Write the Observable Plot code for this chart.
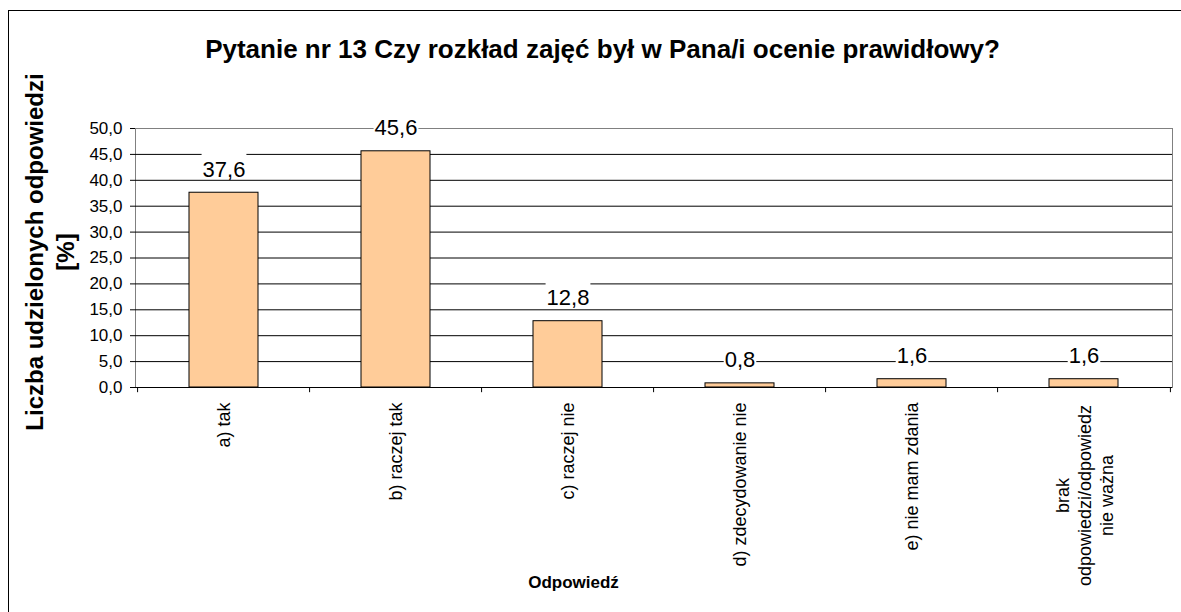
<!DOCTYPE html>
<html><head><meta charset="utf-8">
<script src="https://cdn.jsdelivr.net/npm/d3@7"></script>
<script src="https://cdn.jsdelivr.net/npm/@observablehq/plot@0.6"></script>
<style>
html,body{margin:0;padding:0;background:#fff;overflow:hidden;width:1181px;height:612px;}
#chart{position:absolute;left:0;top:0;}
#border{position:absolute;left:8px;top:10px;width:1300px;height:800px;border:1px solid #000;pointer-events:none;}
</style></head><body>
<div id="chart"></div><div id="border"></div>
<script>
const title = "Pytanie nr 13 Czy rozkład zajęć był w Pana/i ocenie prawidłowy?";
const yTitle = "Liczba udzielonych odpowiedzi\n[%]";
const xTitle = "Odpowiedź";
const categories = ["a) tak", "b) raczej tak", "c) raczej nie", "d) zdecydowanie nie", "e) nie mam zdania", "brak\nodpowiedzi/odpowiedz\nnie ważna"];
const values = [37.6, 45.6, 12.8, 0.8, 1.6, 1.6];
const yTicks = [0, 5, 10, 15, 20, 25, 30, 35, 40, 45, 50];

const data = categories.map((c, i) => ({category: c, value: values[i]}));
const fmt = d => d.toFixed(1).replace(".", ",");
const W = 1181, H = 612, mL = 135, mR = 9, mT = 128, mB = 225;
const step = (W - mL - mR) / categories.length;
const single = data.filter(d => !d.category.includes("\n"));
const multi = data.filter(d => d.category.includes("\n"));
const font = "'Liberation Sans', Arial, sans-serif";

const plot = Plot.plot({
  width: W, height: H,
  marginLeft: mL, marginRight: mR, marginTop: mT, marginBottom: mB,
  style: {fontFamily: font, fontSize: "17px", background: "white", color: "black", overflow: "visible"},
  x: {domain: categories, paddingInner: 0.6, paddingOuter: 0.3, axis: null},
  y: {domain: [0, 50], ticks: yTicks, tickSize: 5, tickPadding: 8, tickFormat: fmt, label: null, line: true},
  marks: [
    Plot.frame({stroke: "#808080"}),
    Plot.ruleY(yTicks.filter(t => t > 0 && t < 50), {stroke: "#000"}),
    Plot.barY(data, {x: "category", y: "value", fill: "#FFCC99", stroke: "#000", strokeWidth: 1}),
    Plot.ruleY([0], {stroke: "#000"}),
    Plot.ruleX(data, {x: "category", dx: -step / 2, y1: 0, y2: -1, stroke: "#000"}),
    Plot.ruleX(data.slice(-1), {x: "category", dx: step / 2, y1: 0, y2: -1, stroke: "#000"}),
    Plot.text(data, {x: "category", y: "value", text: d => fmt(d.value), dy: -23, fontSize: 22, fill: "#000", ariaDescription: "value-labels"}),
    Plot.text(single, {x: "category", text: "category", frameAnchor: "bottom", rotate: -90, textAnchor: "end", lineAnchor: "middle", dy: 15, fontSize: 18, fill: "#000"}),
    Plot.text(multi, {x: "category", text: "category", frameAnchor: "bottom", rotate: -90, textAnchor: "middle", lineAnchor: "middle", lineHeight: 1.2, dy: 108, fontSize: 18, fill: "#000"}),
    Plot.text([yTitle], {frameAnchor: "left", rotate: -90, textAnchor: "middle", lineAnchor: "middle", lineHeight: 1.3, dx: -87, dy: -6, fontSize: 24, fontWeight: "bold", fill: "#000"}),
    Plot.text([title], {frameAnchor: "top", lineAnchor: "bottom", dx: 602 - (mL + (W - mR)) / 2, dy: 57 - mT, fontSize: 26, fontWeight: "bold", fill: "#000"}),
    Plot.text([xTitle], {frameAnchor: "bottom", lineAnchor: "bottom", dx: 573 - (mL + (W - mR)) / 2, dy: 200, fontSize: 17, fontWeight: "bold", fill: "#000"})
  ]
});
document.getElementById("chart").appendChild(plot);

// white boxes behind the data labels
const g = plot.querySelector('g[aria-description="value-labels"]');
if (g) {
  g.querySelectorAll("text").forEach(t => {
    const bb = t.getBBox();
    const r = document.createElementNS("http://www.w3.org/2000/svg", "rect");
    r.setAttribute("x", bb.x - 1);
    r.setAttribute("y", bb.y - 5);
    r.setAttribute("width", bb.width + 2);
    r.setAttribute("height", bb.height);
    r.setAttribute("fill", "white");
    r.setAttribute("stroke", "none");
    const tr = t.getAttribute("transform");
    if (tr) r.setAttribute("transform", tr);
    g.insertBefore(r, t);
  });
}
</script>
</body></html>
